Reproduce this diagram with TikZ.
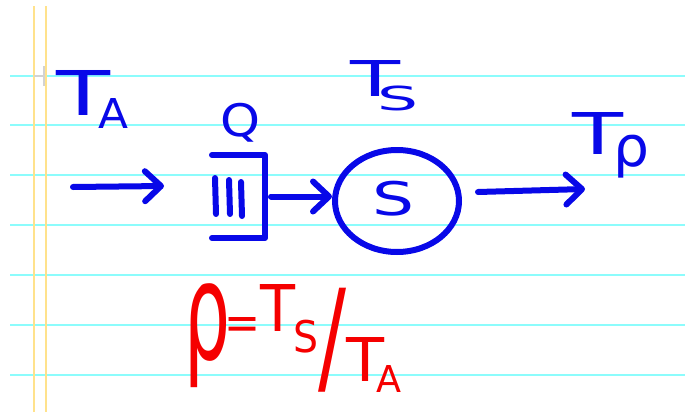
\documentclass[tikz,border=0pt]{standalone}
\usepackage{fontspec}
\setmainfont{DejaVu Sans}
\usepackage{graphicx}
\usetikzlibrary{arrows.meta,shapes.geometric}
\definecolor{ink}{RGB}{8,8,232}
\definecolor{redink}{RGB}{245,0,0}
\definecolor{ruleclr}{RGB}{140,252,252}
\definecolor{marginclr}{RGB}{255,226,140}
% a glyph resized to w x h (total), sitting on the baseline
\newcommand\gl[3]{\raisebox{\depth}{\resizebox*{#1pt}{#2pt}{#3}}}
\tikzset{
  lblnode/.style={inner sep=0pt, outer sep=0pt},
  bink/.style={lblnode, text=ink, anchor=north west},
  rink/.style={lblnode, text=redink, anchor=base west},
  inkline/.style={draw=ink, line width=6pt, line cap=round, line join=round},
  inkarrow/.style={inkline, -{Straight Barb[length=16pt,width=30pt,round]}},
  ruleline/.style={draw=ruleclr, line width=2pt},
  marginline/.style={draw=marginclr, line width=1.5pt},
}
\begin{document}
\begin{tikzpicture}[x=1pt,y=-1pt]
\useasboundingbox[fill=white] (0,0) rectangle (685,415);
% paper
\foreach \yy in {76,125,175,225,275,325,375}
  \draw[ruleline] (10,\yy) -- (685,\yy);
\draw[marginline] (34,6) -- (34,412);
\draw[marginline] (46,6) -- (46,412);
\draw[gray!35, line width=1.5pt] (44,66) -- (44,86);
\draw[gray!35, line width=1.5pt] (34,76) -- (44,76);
% blue labels
\node[bink] (TA) at (56,70) {\gl{54}{45}{T}\kern-12pt\raisebox{-13pt}{\gl{30}{30}{A}}};
\node[bink] (Qlbl) at (220,103) {\gl{40}{39}{Q}};
\node[bink] (TS) at (350,60) {\gl{50}{36}{T}\kern-23pt\raisebox{-15pt}{\gl{41}{25}{S}}};
\node[bink] (TP) at (572,112) {\gl{51}{42}{T}\kern-10pt\raisebox{-24pt}{\gl{36}{43}{ρ}}};
% queue box
\node[inner sep=0pt, outer sep=0pt, minimum width=53pt, minimum height=83pt] (box) at (238.5,196.5) {};
\draw[inkline] (box.north west) -- (box.north east) -- (box.south east) -- (box.south west);
\draw[inkline] (215,178) -- (216,214);
\draw[inkline] (229,180) -- (230,214);
\draw[inkline] (241,182) -- (242,216);
% server
\node[ellipse, draw=ink, line width=6pt, text=ink, minimum width=124pt, minimum height=102pt, inner sep=0pt] (S) at (397,201) {\kern-8pt\raisebox{4pt}{\gl{42}{35}{S}}};
% connectors
\coordinate (in0) at (73,187);
\coordinate (in1) at (164,186);
\coordinate (out1) at (585,189);
\draw[inkarrow] (in0) -- (in1);
\draw[inkarrow] ([xshift=6pt]box.east) -- (S.west |- box.east);
\draw[inkarrow] ([xshift=16pt,yshift=9pt]S.east) -- (out1);
% red formula
\node[rink] (rhoeq) at (184,388) {%
  \gl{46}{104}{ρ}%
  \kern-6pt\raisebox{49pt}{\gl{36}{22}{=}}%
  \raisebox{57pt}{\gl{35}{47}{T}}%
  \kern-2pt\raisebox{35pt}{\gl{25}{33}{S}}%
  \raisebox{-4pt}{\gl{28}{104}{/}}%
  \raisebox{7pt}{\gl{38}{44}{T}}%
  \kern-8pt\raisebox{-4pt}{\gl{25}{27}{A}}};
\end{tikzpicture}
\end{document}
